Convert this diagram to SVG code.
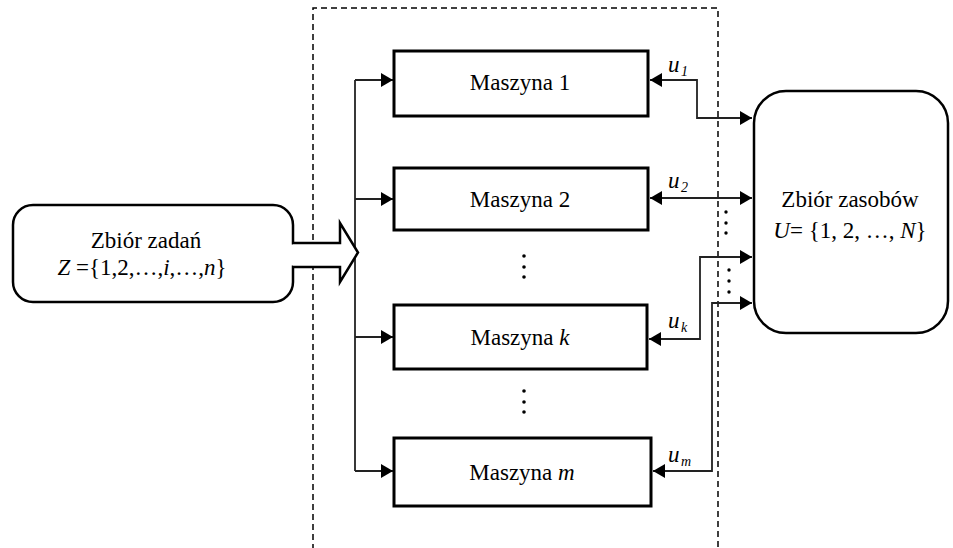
<svg xmlns="http://www.w3.org/2000/svg" width="953" height="548" viewBox="0 0 953 548" font-family="'Liberation Serif', 'Times New Roman', 'DejaVu Serif', serif">
<style>
text{font-family:'Liberation Serif','Times New Roman','DejaVu Serif',serif;fill:#000}
.t{font-size:23px;text-anchor:middle}
.u{font-size:23px;font-style:italic}
.s{font-size:14px;font-style:italic}
.box{fill:#fff;stroke:#000;stroke-width:3}
.rnd{fill:#fff;stroke:#000;stroke-width:2.5}
.con{fill:none;stroke:#222;stroke-width:1.8}
.dash{fill:none;stroke:#000;stroke-width:1.5;stroke-dasharray:6 4}
.dot{fill:#000}
</style>
<defs>
<marker id="ah" markerWidth="12" markerHeight="14" refX="12" refY="7" orient="auto-start-reverse" markerUnits="userSpaceOnUse">
<path d="M0,0 L12,7 L0,14 z" fill="#000"/>
</marker>
</defs>
<rect width="953" height="548" fill="#fff"/>

<g id="boundary">
<path class="dash" d="M313,550 V8 H718 V550"/>
</g>

<g id="connectors">
<path class="con" d="M355,80 V471"/>
<path class="con" d="M355,80 H393" marker-end="url(#ah)"/>
<path class="con" d="M355,199 H393" marker-end="url(#ah)"/>
<path class="con" d="M355,337 H393" marker-end="url(#ah)"/>
<path class="con" d="M355,471 H393" marker-end="url(#ah)"/>
<path class="con" d="M752,118 H697 V80 H650" marker-start="url(#ah)" marker-end="url(#ah)"/>
<path class="con" d="M752,198 H650" marker-start="url(#ah)" marker-end="url(#ah)"/>
<path class="con" d="M752,257 H700 V339 H649" marker-start="url(#ah)" marker-end="url(#ah)"/>
<path class="con" d="M752,303 H712 V471 H653" marker-start="url(#ah)" marker-end="url(#ah)"/>
<text class="u" x="668" y="72">u</text><text class="s" x="681" y="76">1</text>
<text class="u" x="668" y="188">u</text><text class="s" x="681" y="192">2</text>
<text class="u" x="668" y="328">u</text><text class="s" x="681" y="332">k</text>
<text class="u" x="668" y="462">u</text><text class="s" x="681" y="466">m</text>
<circle class="dot" cx="726" cy="212" r="1.7"/><circle class="dot" cx="726" cy="223" r="1.7"/><circle class="dot" cx="726" cy="233" r="1.7"/>
<circle class="dot" cx="729" cy="270" r="1.7"/><circle class="dot" cx="729" cy="281" r="1.7"/><circle class="dot" cx="729" cy="292" r="1.7"/>
<circle class="dot" cx="524" cy="256" r="1.8"/><circle class="dot" cx="524" cy="267" r="1.8"/><circle class="dot" cx="524" cy="277" r="1.8"/>
<circle class="dot" cx="524" cy="391" r="1.8"/><circle class="dot" cx="524" cy="402" r="1.8"/><circle class="dot" cx="524" cy="412" r="1.8"/>
</g>

<g id="zadania">
<rect class="rnd" x="13" y="205" width="280" height="97" rx="20"/>
<rect x="290" y="244.5" width="6" height="21" fill="#fff"/>
<path d="M293,243 H340 V223 L358,252.5 L340,282 V267 H293" fill="#fff" stroke="#000" stroke-width="2.5" stroke-linejoin="miter"/>
<text class="t" x="146" y="248">Zbiór zadań</text>
<text class="t" x="142" y="275"><tspan font-style="italic">Z</tspan> ={1,2,…,<tspan font-style="italic">i</tspan>,…,<tspan font-style="italic">n</tspan>}</text>
</g>

<g id="maszyna1">
<rect class="box" x="394" y="51" width="254" height="65"/>
<text class="t" x="520" y="90">Maszyna 1</text>
</g>
<g id="maszyna2">
<rect class="box" x="394" y="168" width="254" height="62"/>
<text class="t" x="520" y="207">Maszyna 2</text>
</g>
<g id="maszynak">
<rect class="box" x="394" y="305" width="253" height="64"/>
<text class="t" x="520" y="345">Maszyna <tspan font-style="italic">k</tspan></text>
</g>
<g id="maszynam">
<rect class="box" x="394" y="438" width="257" height="68"/>
<text class="t" x="522" y="480">Maszyna <tspan font-style="italic">m</tspan></text>
</g>

<g id="zasoby">
<rect class="rnd" x="754" y="91" width="194" height="242" rx="32"/>
<text class="t" x="850" y="207">Zbiór zasobów</text>
<text class="t" x="850" y="238"><tspan font-style="italic">U</tspan>= {1, 2, …, <tspan font-style="italic">N</tspan>}</text>
</g>
</svg>
